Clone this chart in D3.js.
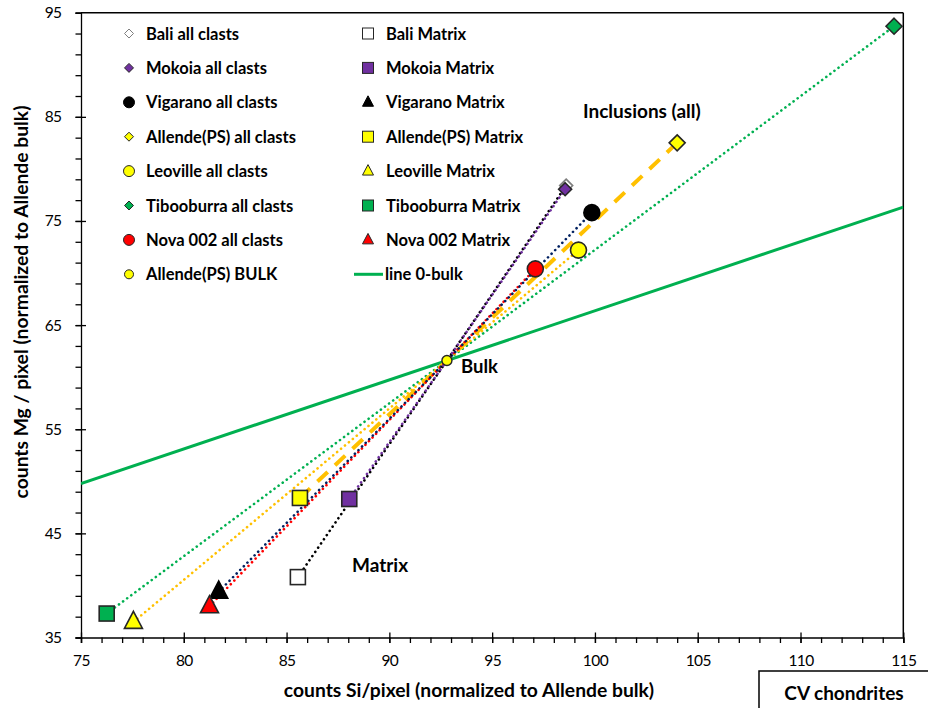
<!DOCTYPE html>
<html><head><meta charset="utf-8">
<script src="https://cdn.jsdelivr.net/npm/d3@7"></script>
<style>
html,body{margin:0;padding:0;background:#fff;}
svg{display:block;font-family:Lato,"Open Sans",sans-serif;}
</style></head>
<body><svg id="c" width="928" height="708"></svg>
<script>
// ---- data ----
const meteorites = ["Bali","Mokoia","Vigarano","Allende(PS)","Leoville","Tibooburra","Nova 002"];
const clastX  = [98.6, 98.55, 99.85, 104.0, 99.2, 114.55, 97.1];
const clastY  = [78.4, 78.05, 75.8, 82.5, 72.2, 93.7, 70.4];
const matrixX = [85.55, 88.05, 81.7, 85.65, 77.55, 76.25, 81.25];
const matrixY = [40.8, 48.3, 39.4, 48.4, 36.5, 37.3, 38.0];
const bulkX = [92.8];
const bulkY = [61.6];
const originLine = [[0,0],[92.8,61.6]];
const xTicks = [75,80,85,90,95,100,105,110,115];
const yTicks = [35,45,55,65,75,85,95];

// ---- styles ----
const clastShape = ["diamond","diamond","circle","diamond","circle","diamond","circle"];
const matrixShape = ["square","square","triangle","square","triangle","square","triangle"];
const fillCol = ["#ffffff","#7030A0","#000000","#FFFF00","#FFFF00","#00B050","#FF0000"];
const strokeCol = ["#7f7f7f","#262626","#000000","#262626","#262626","#262626","#262626"];
const matStroke = ["#262626","#262626","#000000","#262626","#262626","#262626","#262626"];
const lineCol = ["#000000","#7030A0","#002060","#FFC000","#FFC000","#00B050","#FF0000"];

const svg = d3.select("#c");
const L = 81, R = 903.3, T = 12.7, B = 637.5;
const x = d3.scaleLinear().domain([75,115]).range([L,R]);
const y = d3.scaleLinear().domain([35,95]).range([B,T]);

const defs = svg.append("defs");
defs.append("clipPath").attr("id","clip").append("rect")
  .attr("x",L).attr("y",T).attr("width",R-L).attr("height",B-T);

// frame
svg.append("line").attr("x1",L).attr("x2",R).attr("y1",T).attr("y2",T).attr("stroke","#000").attr("stroke-width",1.5);
svg.append("line").attr("x1",R).attr("x2",R).attr("y1",T).attr("y2",B).attr("stroke","#000").attr("stroke-width",1.5);

// axes
const xMinor = d3.range(75,116,1);
const yMinor = d3.range(35,96,2);
const tickFont = "Lato, sans-serif";
const gx = svg.append("g").attr("transform",`translate(0,${B})`);
gx.call(d3.axisBottom(x).tickValues(xMinor).tickSize(5.5).tickFormat(""));
gx.call(g=>g.select(".domain").remove());
const gx2 = svg.append("g").attr("transform",`translate(0,${B})`);
gx2.call(d3.axisBottom(x).tickValues(xTicks).tickSize(5.5).tickFormat(d3.format("d")).tickPadding(12));
gx2.selectAll(".tick line").attr("y1",-5);
gx.selectAll("line,path").attr("stroke","#000").attr("stroke-width",1.3);
gx2.selectAll("line,path").attr("stroke","#000").attr("stroke-width",1.3);
gx2.selectAll("text").attr("font-size",15.5).attr("letter-spacing",-0.6).attr("font-family",tickFont).attr("fill","#000");

const gy = svg.append("g").attr("transform",`translate(${L},0)`);
gy.call(d3.axisLeft(y).tickValues(yMinor).tickSize(5.5).tickFormat(""));
gy.call(g=>g.select(".domain").remove());
const gy2 = svg.append("g").attr("transform",`translate(${L},0)`);
gy2.call(d3.axisLeft(y).tickValues(yTicks).tickSize(5.5).tickFormat(d3.format("d")).tickPadding(14));
gy2.selectAll(".tick line").attr("x1",5);
gy2.selectAll(".tick").filter(d=>d===95||d===35).select("line").attr("x1",0);
gy.selectAll("line,path").attr("stroke","#000").attr("stroke-width",1.3);
gy2.selectAll("line,path").attr("stroke","#000").attr("stroke-width",1.3);
gy2.selectAll("text").attr("font-size",15.5).attr("letter-spacing",-0.6).attr("font-family",tickFont).attr("fill","#000");

// axis titles
svg.append("text").attr("x",469).attr("y",697).attr("text-anchor","middle")
  .attr("font-size",19.3).attr("font-weight","bold").text("counts Si/pixel (normalized to Allende bulk)");
svg.append("text").attr("transform",`translate(28,302) rotate(-90)`).attr("text-anchor","middle")
  .attr("font-size",19.3).attr("font-weight","bold").text("counts Mg / pixel (normalized to Allende bulk)");

// CV chondrites box
svg.append("rect").attr("x",759).attr("y",671).attr("width",200).attr("height",60)
  .attr("fill","#fff").attr("stroke","#000").attr("stroke-width",1.5);
svg.append("text").attr("x",844).attr("y",700).attr("text-anchor","middle")
  .attr("font-size",19).attr("font-weight","bold").text("CV chondrites");

const plot = svg.append("g").attr("clip-path","url(#clip)");

// line 0-bulk (extended through origin and bulk)
const slope = (originLine[1][1]-originLine[0][1])/(originLine[1][0]-originLine[0][0]);
plot.append("line").attr("x1",x(75)).attr("y1",y(slope*75)).attr("x2",x(115)).attr("y2",y(slope*115))
  .attr("stroke","#00B050").attr("stroke-width",3);

// connector lines: matrix -> bulk -> clasts
const order = [5,4,3,6,2,0,1];
order.forEach(i=>{
  const pts = [[matrixX[i],matrixY[i]],[bulkX[0],bulkY[0]],[clastX[i],clastY[i]]];
  const dashed = meteorites[i]==="Allende(PS)";
  plot.append("path").attr("d",d3.line().x(d=>x(d[0])).y(d=>y(d[1]))(pts))
    .attr("fill","none").attr("stroke",lineCol[i])
    .attr("stroke-width",dashed?4:2.6)
    .attr("stroke-dasharray",dashed?"14 10":"0.1 5")
    .attr("stroke-linecap",dashed?"butt":"round");
});

// marker drawing
function marker(g,shape,cx,cy,s,fill,stroke,sw){
  if(shape==="circle") g.append("circle").attr("cx",cx).attr("cy",cy).attr("r",s/2).attr("fill",fill).attr("stroke",stroke).attr("stroke-width",sw);
  else if(shape==="square") g.append("rect").attr("x",cx-s/2).attr("y",cy-s/2).attr("width",s).attr("height",s).attr("fill",fill).attr("stroke",stroke).attr("stroke-width",sw);
  else if(shape==="diamond"){const h=s/2;g.append("path").attr("d",`M${cx},${cy-h}L${cx+h},${cy}L${cx},${cy+h}L${cx-h},${cy}Z`).attr("fill",fill).attr("stroke",stroke).attr("stroke-width",sw);}
  else if(shape==="triangle"){const h=s*0.95;g.append("path").attr("d",`M${cx},${cy-h*0.62}L${cx+s/2},${cy+h*0.38}L${cx-s/2},${cy+h*0.38}Z`).attr("fill",fill).attr("stroke",stroke).attr("stroke-width",sw);}
}

const mg = svg.append("g");
meteorites.forEach((m,i)=>{
  marker(mg,matrixShape[i],x(matrixX[i]),y(matrixY[i]),matrixShape[i]==="triangle"?18:15,fillCol[i],matStroke[i],1.6);
});
meteorites.forEach((m,i)=>{
  const s = clastShape[i]==="diamond"?(i<=1?13:16):16;
  marker(mg,clastShape[i],x(clastX[i]),y(clastY[i]),s,fillCol[i],strokeCol[i],1.6);
});
marker(mg,"circle",x(bulkX[0]),y(bulkY[0]),10,"#FFFF00","#262626",1.4);

// annotations
svg.append("text").attr("x",583).attr("y",118).attr("font-size",19).attr("font-weight","bold").text("Inclusions (all)");
svg.append("text").attr("x",461).attr("y",373).attr("font-size",18.5).attr("font-weight","bold").text("Bulk");
svg.append("text").attr("x",352).attr("y",572).attr("font-size",19).attr("font-weight","bold").text("Matrix");

// legend
const leg = svg.append("g").attr("font-size",16.5).attr("font-weight","bold");
const rowY = i => 33.5 + i*34.4;
meteorites.forEach((m,i)=>{
  marker(leg,clastShape[i],129,rowY(i),clastShape[i]==="diamond"?9:11,fillCol[i],strokeCol[i],1);
  leg.append("text").attr("x",146).attr("y",rowY(i)+6).text(m+" all clasts");
  marker(leg,matrixShape[i],368,rowY(i),11,fillCol[i],matStroke[i],1);
  leg.append("text").attr("x",386).attr("y",rowY(i)+6).text(m+" Matrix");
});
marker(leg,"circle",129,rowY(7),9,"#FFFF00","#262626",1);
leg.append("text").attr("x",146).attr("y",rowY(7)+6).text("Allende(PS) BULK");
leg.append("line").attr("x1",354).attr("x2",383).attr("y1",rowY(7)).attr("y2",rowY(7)).attr("stroke","#00B050").attr("stroke-width",3);
leg.append("text").attr("x",385).attr("y",rowY(7)+6).text("line 0-bulk");
</script></body></html>
